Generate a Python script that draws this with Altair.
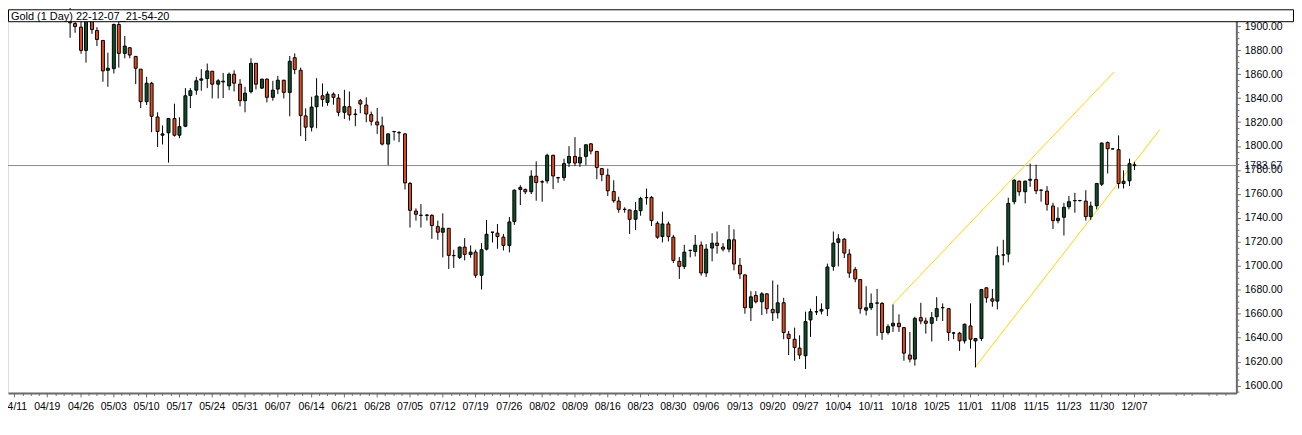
import altair as alt
import pandas as pd

# ---------------- data ----------------
opens = [1912, 1902.2, 1899.2, 1879.8, 1904.1, 1896.4, 1888.1, 1863.2, 1864.6, 1901.4,
         1877.3, 1882, 1874.8, 1864.1, 1837, 1852.4, 1824.2, 1809, 1811, 1822.9,
         1809, 1816.5, 1842.2, 1846.6, 1854.9, 1856.3, 1862.4, 1851.6, 1853.5, 1850.2,
         1859.9, 1851.6, 1837.8, 1845.3, 1869, 1848.3, 1855.8, 1840.6, 1847.5, 1854.9,
         1844.7, 1873.7, 1863.2, 1825.1, 1815.7, 1832.8, 1841.9, 1836.4, 1843.3, 1840,
         1828.1, 1832.8, 1826.7, 1837.8, 1834.2, 1826.2, 1820.1, 1816.8, 1801.6, 1812,
         1811.2, 1810.1, 1768.7, 1745.7, 1742.1, 1742.4, 1742.1, 1732.7, 1728, 1731.3,
         1708.6, 1707, 1715.6, 1709.5, 1711.4, 1692.1, 1713.9, 1728, 1727.2, 1723.9,
         1717, 1736.9, 1763.7, 1763.7, 1761.8, 1774.8, 1770.2, 1770.9, 1792.2, 1773.6,
         1773.6, 1785.8, 1791.3, 1785.8, 1791.3, 1801.8, 1795.5, 1781.1, 1775.6, 1762,
         1754, 1747.2, 1746.6, 1738.8, 1746, 1757, 1757.1, 1735.5, 1724.4, 1734.9,
         1723.9, 1703.7, 1699.5, 1712.8, 1712, 1717.2, 1694, 1714.8, 1718.9, 1715.6,
         1713.9, 1721.7, 1700.4, 1692.4, 1665, 1675.2, 1670, 1676.6, 1663.6, 1660.8,
         1669.1, 1642.9, 1638.7, 1631.3, 1624.9, 1654.8, 1661.7, 1662.2, 1664.2, 1699.5,
         1719.5, 1722.2, 1709.8, 1696.8, 1688.5, 1663, 1665, 1669, 1668.6, 1644.3,
         1649.8, 1652, 1648.4, 1625.5, 1622.1, 1656.7, 1653.9, 1652, 1657.5, 1665.1,
         1664.2, 1644, 1643.7, 1637.3, 1649.8, 1637.3, 1639.3, 1681.6, 1672.4, 1670.5,
         1709.1, 1709.8, 1753.5, 1770.6, 1761.8, 1771.4, 1772, 1763.2, 1762.3, 1749.9,
         1737.7, 1740.5, 1749.3, 1754.5, 1754.4, 1754, 1741, 1750.1, 1768.1, 1802.9,
         1797.6, 1796.9, 1768.7, 1770.9, 1784.3]
highs = [1916, 1908, 1905.5, 1905.5, 1908, 1899.2, 1888.5, 1877.9, 1902.2, 1908.3,
         1891.7, 1882.6, 1875, 1864.3, 1857.7, 1853.5, 1828.1, 1817.1, 1823.4, 1835.3,
         1824, 1848.3, 1848.3, 1857.7, 1864.1, 1868.8, 1862.6, 1855.8, 1861, 1861.3,
         1863.2, 1855.8, 1849.4, 1873.2, 1869.2, 1856, 1856.3, 1854.4, 1858.5, 1855.2,
         1875.1, 1877.3, 1865.4, 1831.4, 1841.1, 1856.6, 1852.2, 1845.5, 1844.7, 1843.3,
         1846.9, 1845.5, 1830.9, 1839.2, 1840.6, 1828.7, 1831.7, 1824.5, 1810.3, 1812.6,
         1812.4, 1810.7, 1770, 1747.9, 1751.5, 1743, 1743, 1737.7, 1743.8, 1731.5,
         1713.4, 1716.1, 1723.1, 1717, 1713.4, 1718.9, 1738.3, 1728.3, 1734.9, 1726.6,
         1740.7, 1763.7, 1767.3, 1764.5, 1779.7, 1787.2, 1771.4, 1793.6, 1792.7, 1774.2,
         1789.4, 1799.9, 1807.4, 1798.3, 1801.3, 1802.4, 1795.8, 1781.7, 1781.1, 1771.4,
         1757.6, 1748.8, 1747.1, 1753.2, 1757.6, 1764.5, 1758.2, 1737.2, 1745.2, 1736.9,
         1725.8, 1707.3, 1717.5, 1713.4, 1725.8, 1720.3, 1718.1, 1727.2, 1728.6, 1718.9,
         1734.1, 1730.5, 1706.5, 1692.6, 1678.8, 1678.8, 1678, 1676.9, 1687.7, 1684.3,
         1673.3, 1645.6, 1648.4, 1642, 1661.7, 1664.2, 1674.7, 1668.6, 1701.8, 1728.6,
         1726.4, 1723, 1713.9, 1699, 1688.7, 1682.9, 1676.9, 1680.7, 1669.7, 1651.2,
         1667.8, 1659.5, 1648.6, 1644.8, 1657.5, 1669.1, 1656.7, 1661.4, 1673.8, 1668.6,
         1664.4, 1644.8, 1644.8, 1651.7, 1668.6, 1639.3, 1680.7, 1682.1, 1680.7, 1716.1,
         1721.7, 1756.8, 1772.3, 1771.2, 1771.2, 1785.3, 1784.4, 1763.7, 1766.5, 1752.6,
         1748.8, 1752.6, 1758.2, 1760.9, 1755, 1763.1, 1753.5, 1769.2, 1803, 1803.8,
         1797.9, 1808.8, 1779.7, 1789.4, 1786.8]
lows = [1890.3, 1894.5, 1877, 1869.6, 1893.6, 1883.4, 1853.6, 1849.4, 1860.5, 1865.4,
        1873.2, 1873.2, 1851.6, 1831.7, 1834.2, 1811.5, 1799.1, 1801.3, 1786.1, 1807.9,
        1806.5, 1815.7, 1831.7, 1842.8, 1846.1, 1848.3, 1839.7, 1839.7, 1840, 1846.6,
        1845.5, 1833.1, 1828.1, 1843.9, 1847.2, 1847.5, 1836.4, 1837.8, 1843.3, 1839.7,
        1824.8, 1859.9, 1808.2, 1804.1, 1812.1, 1814.8, 1832.8, 1833.6, 1834.5, 1824.8,
        1822.6, 1821.2, 1816.5, 1827.3, 1819.8, 1817.1, 1810.1, 1800.5, 1783.9, 1804.6,
        1803.2, 1763.7, 1731.9, 1737.7, 1731.9, 1737.7, 1722.5, 1721.7, 1707, 1697.3,
        1698.2, 1705.6, 1704.5, 1706.7, 1689.9, 1680.2, 1712.8, 1719.5, 1714.2, 1712.8,
        1711.2, 1734.1, 1750.7, 1759.8, 1759.8, 1754.3, 1753.5, 1768.7, 1764, 1769.2,
        1770.9, 1782.5, 1783.3, 1782.5, 1783.9, 1793, 1772.3, 1770.6, 1758.2, 1752.6,
        1744.3, 1744.3, 1726.6, 1729.9, 1741.8, 1751, 1733.3, 1722.5, 1719.5, 1720.3,
        1702.3, 1689, 1697.3, 1707, 1707.8, 1691.8, 1690.7, 1703.7, 1710.1, 1712,
        1711.2, 1696.2, 1689, 1660, 1653.9, 1668.6, 1658.9, 1660, 1653.9, 1655.9,
        1638.7, 1625.5, 1620.7, 1622.1, 1613.8, 1640.6, 1658.9, 1659.5, 1658.1, 1695.9,
        1699.5, 1706.5, 1689.9, 1686.3, 1660, 1658.6, 1663, 1641.5, 1638.2, 1642.6,
        1644.8, 1644.8, 1620.7, 1619.4, 1616.6, 1651.2, 1643.4, 1636.8, 1653.9, 1653.9,
        1637.3, 1638.7, 1629, 1635.1, 1630.9, 1615.2, 1637.3, 1669.1, 1665.8, 1663.6,
        1700.4, 1702.9, 1751.3, 1758.4, 1752.1, 1765.9, 1759.8, 1753.5, 1746, 1730.8,
        1735.5, 1725.3, 1747.1, 1744.3, 1753.6, 1737.7, 1738.2, 1747.1, 1766.5, 1777,
        1797.2, 1764.5, 1764.5, 1766.5, 1780]
closes = [1902.8, 1899.7, 1879.8, 1904.1, 1897.2, 1888.9, 1862.7, 1864.9, 1901.4, 1877.3,
          1883.4, 1875.9, 1864.9, 1837, 1852.4, 1824.8, 1812.1, 1810.1, 1822.9, 1809,
          1816.2, 1841.9, 1846.1, 1854.4, 1856, 1862.7, 1851.6, 1854.4, 1854.1, 1859.9,
          1852.4, 1837.8, 1844.1, 1869, 1851.6, 1855.8, 1840.6, 1846.6, 1854.9, 1844.7,
          1870.7, 1863.8, 1825.4, 1815.7, 1832.5, 1841.7, 1838.9, 1843.3, 1840.6, 1828.1,
          1832.8, 1825.9, 1826.2, 1835, 1826.7, 1820.6, 1817.6, 1801.6, 1810.1, 1812.1,
          1811, 1769.2, 1746.3, 1743, 1742.2, 1742.1, 1733.6, 1728, 1731.3, 1708.7,
          1708.4, 1715.6, 1709.5, 1711.4, 1692.1, 1713.4, 1726.3, 1728.1, 1724.4, 1717,
          1736.6, 1763.1, 1765.4, 1761.8, 1774.8, 1769.5, 1769.9, 1792.2, 1775, 1773.4,
          1785.3, 1791.3, 1785.8, 1790.5, 1801, 1795.8, 1782, 1776.1, 1762.6, 1754.3,
          1747.1, 1747, 1738.8, 1746, 1756.2, 1756.8, 1737.7, 1723.9, 1734.9, 1724.4,
          1704.5, 1699.5, 1711.4, 1712.9, 1717.2, 1694, 1713.9, 1718.9, 1717, 1713.9,
          1721.7, 1701.5, 1693.2, 1665, 1674.1, 1670, 1676.6, 1664.2, 1660.8, 1669.1,
          1644.3, 1639.3, 1631.8, 1625.5, 1653.4, 1661.7, 1661.5, 1663.6, 1699, 1718.9,
          1722.5, 1710.6, 1694, 1689, 1664.2, 1665, 1668.6, 1668.8, 1644.3, 1649.2,
          1652, 1649.2, 1627.1, 1622.1, 1656.1, 1653.9, 1652, 1656.7, 1664.2, 1665,
          1644.3, 1643.8, 1637.3, 1651.2, 1638.7, 1639.3, 1680.2, 1673.3, 1670.5, 1708.4,
          1708.9, 1752.1, 1771.4, 1761.8, 1770.6, 1772.2, 1762.6, 1763, 1751.3, 1737.7,
          1739.6, 1748.8, 1753.5, 1754.3, 1754.5, 1741, 1749.9, 1768.7, 1802.4, 1797.7,
          1797.5, 1768.7, 1770.6, 1785.3, 1783.67]

date_labels = ["04/11", "04/19", "04/26", "05/03", "05/10", "05/17", "05/24", "05/31",
               "06/07", "06/14", "06/21", "06/28", "07/05", "07/12", "07/19", "07/26",
               "08/02", "08/09", "08/16", "08/23", "08/30", "09/06", "09/13", "09/20",
               "09/27", "10/04", "10/11", "10/18", "10/25", "11/01", "11/08", "11/15",
               "11/23", "11/30", "12/07"]
label_idx = [-10 + 6 * k for k in range(len(date_labels))]
minor_x = [-10 + 1.5 * k for k in range(0, 148) if k % 4 != 0]

y_major = list(range(1600, 1901, 20))
y_minor = [v for v in range(1595, 1906, 5) if v % 20 != 0]

last_price = 1783.67
upper_idx = [150, 190.4]
upper_price = [1667.8, 1861.8]
lower_idx = [165, 198.7]
lower_price = [1615.2, 1813.7]

header_text = "Gold (1 Day) 22-12-07_21-54-20"

# ---------------- build tables ----------------
n = len(closes)
candles = pd.DataFrame({
    "idx": list(range(n)),
    "open": opens, "high": highs, "low": lows, "close": closes,
})
candles["body_lo"] = candles[["open", "close"]].min(axis=1)
candles["body_hi"] = candles[["open", "close"]].max(axis=1)
candles["dir"] = ["up" if c > o else "down" for o, c in zip(opens, closes)]

channel = pd.DataFrame({
    "idx": upper_idx + lower_idx,
    "price": upper_price + lower_price,
    "line": ["upper", "upper", "lower", "lower"],
})

W, H = 1236, 378
FONT = "Liberation Sans"
AX = "#6a6a6a"

xscale = alt.Scale(domain=[-10.233, 211.67], nice=False, zero=False, round=True)
yscale = alt.Scale(domain=[1593.9, 1907.47], nice=False, zero=False)

label_expr = "[" + ",".join("'%s'" % d for d in date_labels) + "][round((datum.value + 10) / 6)]"

xaxis = alt.Axis(values=label_idx, labelExpr=label_expr, title=None, grid=False,
                 domainColor=AX, domainWidth=2, tickColor=AX, tickSize=4,
                 labelFont=FONT, labelFontSize=10.5, labelColor="black",
                 labelPadding=5, labelFlush=False, labelOverlap=False)
yaxis = alt.Axis(orient="right", values=y_major, format=".2f", title=None, grid=False,
                 domainColor=AX, domainWidth=2, tickColor=AX, tickSize=4,
                 labelFont=FONT, labelFontSize=10.5, labelColor="black",
                 labelPadding=4, labelFlush=False, labelOverlap=False)

X = alt.X("idx:Q", scale=xscale, axis=xaxis)

wicks = alt.Chart(candles).mark_rule(color="black", strokeWidth=1, xOffset=0.5).encode(
    x=X,
    y=alt.Y("low:Q", scale=yscale, axis=yaxis),
    y2="high:Q",
)

bodies = alt.Chart(candles).mark_bar(size=3, stroke="black", strokeWidth=1, xOffset=0.5).encode(
    x=X,
    y=alt.Y("body_lo:Q", scale=yscale, axis=yaxis),
    y2="body_hi:Q",
    color=alt.Color("dir:N", scale=alt.Scale(domain=["up", "down"], range=["#0b5029", "#e8491b"]),
                    legend=None),
)

lines = alt.Chart(channel).mark_line(color="#ffd400", strokeWidth=1).encode(
    x=X,
    y=alt.Y("price:Q", scale=yscale, axis=yaxis),
    detail="line:N",
)

price_df = pd.DataFrame({"price": [last_price], "label": ["%.2f" % last_price]})
price_rule = alt.Chart(price_df).mark_rule(color="#8a8a8a", strokeWidth=1).encode(
    y=alt.Y("price:Q", scale=yscale, axis=yaxis),
    x=alt.value(0), x2=alt.value(W),
)
price_text = alt.Chart(price_df).mark_text(align="left", baseline="middle", font=FONT,
                                           fontSize=10.5, color="#10103a").encode(
    y=alt.Y("price:Q", scale=yscale, axis=yaxis),
    x=alt.value(W + 8),
    text="label:N",
)

ymin_df = pd.DataFrame({"price": y_minor})
ytick_minor = alt.Chart(ymin_df).mark_rule(color=AX, strokeWidth=1, yOffset=0.5).encode(
    y=alt.Y("price:Q", scale=yscale, axis=yaxis),
    x=alt.value(W + 1), x2=alt.value(W + 3),
)
xmin_df = pd.DataFrame({"idx": minor_x})
xtick_minor = alt.Chart(xmin_df).mark_rule(color=AX, strokeWidth=1, xOffset=0.5).encode(
    x=X,
    y=alt.value(H + 1), y2=alt.value(H + 3),
)

head_df = pd.DataFrame({"t": [header_text]})
header_box = alt.Chart(head_df).mark_rect(fill="white", stroke="black", strokeWidth=1).encode(
    x=alt.value(0.5), x2=alt.value(W + 57.5), y=alt.value(-7.5), y2=alt.value(4.5),
)
header_txt = alt.Chart(head_df).mark_text(align="left", baseline="alphabetic", font=FONT,
                                          fontSize=11, color="black").encode(
    x=alt.value(3), y=alt.value(2.5), text="t:N",
)

chart = alt.layer(
    price_rule, lines, wicks, bodies, ytick_minor, xtick_minor, price_text,
    header_box, header_txt,
).properties(
    width=W, height=H,
    autosize=alt.AutoSizeParams(type="none"),
    padding={"left": 0, "top": 8, "right": 58, "bottom": 30},
).configure_view(stroke="#9a9a9a", strokeWidth=1).configure(background="white")

chart.save("out.html", embed_options={"renderer": "svg", "actions": False})
